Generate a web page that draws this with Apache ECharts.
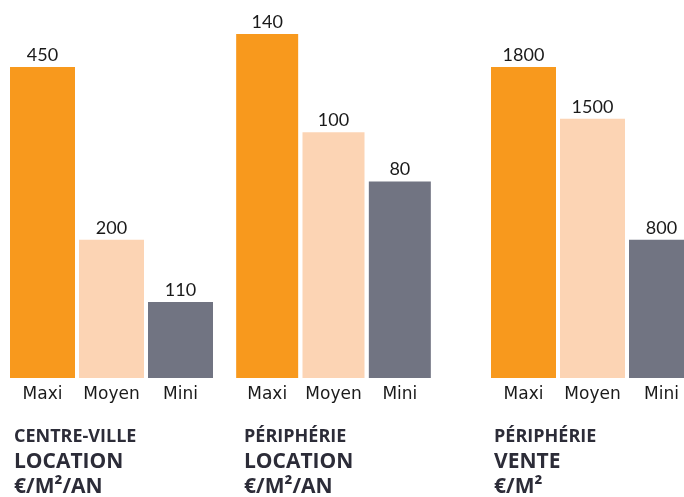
<!DOCTYPE html>
<html>
<head>
<meta charset="utf-8">
<script src="https://cdn.jsdelivr.net/npm/echarts@6/dist/echarts.min.js"></script>
<style>
  html, body { margin: 0; padding: 0; background: #ffffff; overflow: hidden; }
  /* the last panel runs past the right edge of the window */
  #chart { width: 700px; height: 497px; }
</style>
</head>
<body>
<div id="chart"></div>
<script>
// Categories shared by the three panels
const categories = ['Maxi', 'Moyen', 'Mini'];

// Values per panel
const centreVilleLocation = [450, 200, 110];   // €/m²/an
const peripherieLocation = [140, 100, 80];     // €/m²/an
const peripherieVente = [1800, 1500, 800];     // €/m²

// Panel captions (one line per entry)
const captionCentreVille = ['CENTRE-VILLE', 'LOCATION', '€/M²/AN'];
const captionPeriLocation = ['PÉRIPHÉRIE', 'LOCATION', '€/M²/AN'];
const captionPeriVente = ['PÉRIPHÉRIE', 'VENTE', '€/M²'];

// Bar colours by category
const barColors = ['#F8991D', '#FCD4B4', '#717482'];

const panels = [
  { values: centreVilleLocation, caption: captionCentreVille, left: 8, width: 207, barWidth: 65, max: 518 },
  { values: peripherieLocation, caption: captionPeriLocation, left: 234, width: 199, barWidth: 62, max: 145.7 },
  { values: peripherieVente, caption: captionPeriVente, left: 489, width: 207, barWidth: 65, max: 2072 }
];

const LABEL_FONT = '"DejaVu Sans", sans-serif';
const VALUE_FONT = 'Lato, "DejaVu Sans", sans-serif';

const chart = echarts.init(document.getElementById('chart'), null, { renderer: 'canvas' });

const grid = [], xAxis = [], yAxis = [], series = [], graphic = [];

panels.forEach((p, i) => {
  grid.push({ left: p.left, width: p.width, top: 20, bottom: 119, containLabel: false });
  xAxis.push({
    type: 'category',
    gridIndex: i,
    data: categories,
    axisLine: { show: false },
    axisTick: { show: false },
    axisLabel: {
      color: '#1a1a1a', fontSize: 17, fontFamily: LABEL_FONT,
      margin: 8, interval: 0, hideOverlap: false
    }
  });
  yAxis.push({
    type: 'value',
    gridIndex: i,
    min: 0,
    max: p.max,
    show: false,
    splitLine: { show: false }
  });
  series.push({
    type: 'bar',
    xAxisIndex: i,
    yAxisIndex: i,
    barWidth: p.barWidth,
    data: p.values.map((v, k) => ({ value: v, itemStyle: { color: barColors[k] } })),
    label: {
      show: true,
      position: 'top',
      distance: 3,
      color: '#1a1a1a',
      fontSize: 18,
      fontFamily: VALUE_FONT
    },
    silent: true,
    animation: false
  });

  // Caption under each panel
  const x = [14, 244, 494][i];
  const ys = [439, 464, 489];
  const sizes = [18, 21, 21];
  p.caption.forEach((line, j) => {
    graphic.push({
      type: 'text',
      left: x,
      top: ys[j] - sizes[j] * 0.6,
      style: {
        text: line,
        fill: '#2c2c38',
        font: 'bold ' + sizes[j] + 'px "Open Sans", sans-serif'
      }
    });
  });
});

chart.setOption({
  backgroundColor: '#ffffff',
  animation: false,
  grid,
  xAxis,
  yAxis,
  series,
  graphic
});
</script>
</body>
</html>
